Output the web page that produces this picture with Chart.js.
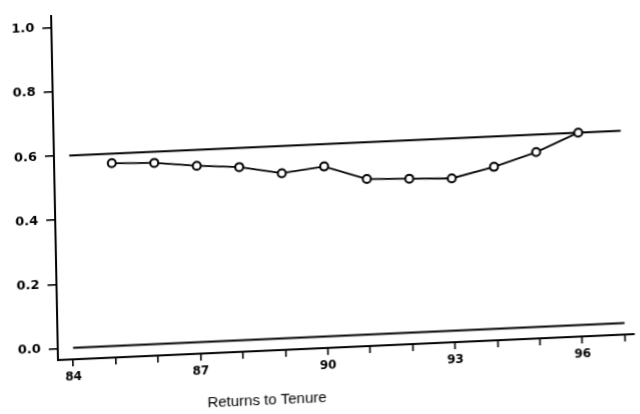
<!DOCTYPE html>
<html lang="en">
<head>
    <meta charset="UTF-8">
    <title>Returns to Tenure</title>
    <style>
        html, body {
            margin: 0;
            padding: 0;
            background: #fff;
            overflow: hidden;
        }

        /* the scanned original is slightly skewed; reproduce that around the axis corner */
        .chart-wrap {
            position: absolute;
            left: 0;
            top: 0;
            width: 640px;
            height: 440px;
            transform-origin: 58px 360px;
            transform: matrix(1, -0.045, 0.02, 1, 0, 0);
        }
    </style>
    <script src="https://cdn.jsdelivr.net/npm/chart.js"></script>
</head>
<body>
    <div class="chart-wrap">
        <canvas id="tenureChart"></canvas>
    </div>
    <script>
        // data
        const years = [85, 86, 87, 88, 89, 90, 91, 92, 93, 94, 95, 96];
        const returns = [0.57, 0.565, 0.55, 0.54, 0.515, 0.53, 0.485, 0.48, 0.475, 0.505, 0.545, 0.60];

        // two flat reference lines spanning 84..97
        const refSpan = [84, 97];
        const upperLevel = 0.6;
        const lowerLevel = 0.0;

        const xTicks = [84, 85, 86, 87, 88, 89, 90, 91, 92, 93, 94, 95, 96, 97];
        const xLabelled = [84, 87, 90, 93, 96];
        const yTicks = [0.0, 0.2, 0.4, 0.6, 0.8, 1.0];

        const titlePlugin = {
            id: 'bottomTitle',
            afterDraw(chart) {
                const ctx = chart.ctx;
                ctx.save();
                ctx.font = '15px "Liberation Sans", Arial, sans-serif';
                ctx.fillStyle = '#000';
                ctx.textAlign = 'center';
                ctx.textBaseline = 'middle';
                ctx.fillText('Returns to Tenure', 266, 410);
                ctx.restore();
            }
        };

        const ctx = document.getElementById('tenureChart').getContext('2d');
        new Chart(ctx, {
            type: 'line',
            data: {
                datasets: [{
                    label: 'Returns to Tenure',
                    data: years.map((y, i) => ({ x: y, y: returns[i] })),
                    borderColor: '#000',
                    borderWidth: 1.8,
                    pointRadius: 4,
                    pointBorderWidth: 2,
                    pointBorderColor: '#000',
                    pointBackgroundColor: '#fff',
                    tension: 0
                }, {
                    label: 'upper',
                    data: refSpan.map(x => ({ x: x, y: upperLevel })),
                    borderColor: '#000',
                    borderWidth: 2,
                    pointRadius: 0
                }, {
                    label: 'lower',
                    data: refSpan.map(x => ({ x: x, y: lowerLevel })),
                    borderColor: '#000',
                    borderWidth: 2,
                    pointRadius: 0
                }]
            },
            options: {
                responsive: true,
                maintainAspectRatio: false,
                animation: false,
                layout: { padding: { top: 10, right: 0, bottom: 0, left: 0 } },
                plugins: {
                    legend: { display: false },
                    tooltip: { enabled: false }
                },
                scales: {
                    x: {
                        type: 'linear',
                        min: 83.64,
                        max: 97.22,
                        afterFit: scale => { scale.height = 80; },
                        afterBuildTicks: scale => { scale.ticks = xTicks.map(v => ({ value: v })); },
                        border: { display: true, color: '#000', width: 2 },
                        grid: {
                            drawOnChartArea: false,
                            drawTicks: true,
                            tickLength: 7,
                            color: '#000',
                            lineWidth: 1.6
                        },
                        ticks: {
                            autoSkip: false,
                            maxRotation: 0,
                            padding: 4,
                            color: '#000',
                            font: { family: 'DejaVu Sans', size: 12, weight: 'bold' },
                            callback: v => xLabelled.includes(v) ? String(v) : ''
                        }
                    },
                    y: {
                        min: -0.036,
                        max: 1.038,
                        afterFit: scale => { scale.width = 58; },
                        afterBuildTicks: scale => { scale.ticks = yTicks.map(v => ({ value: v })); },
                        border: { display: true, color: '#000', width: 2 },
                        grid: {
                            drawOnChartArea: false,
                            drawTicks: true,
                            tickLength: 9,
                            color: '#000',
                            lineWidth: 1.6
                        },
                        ticks: {
                            padding: 8,
                            color: '#000',
                            font: { family: 'DejaVu Sans', size: 13, weight: 'bold' },
                            callback: v => v.toFixed(1)
                        }
                    }
                }
            },
            plugins: [titlePlugin]
        });
    </script>
</body>
</html>
